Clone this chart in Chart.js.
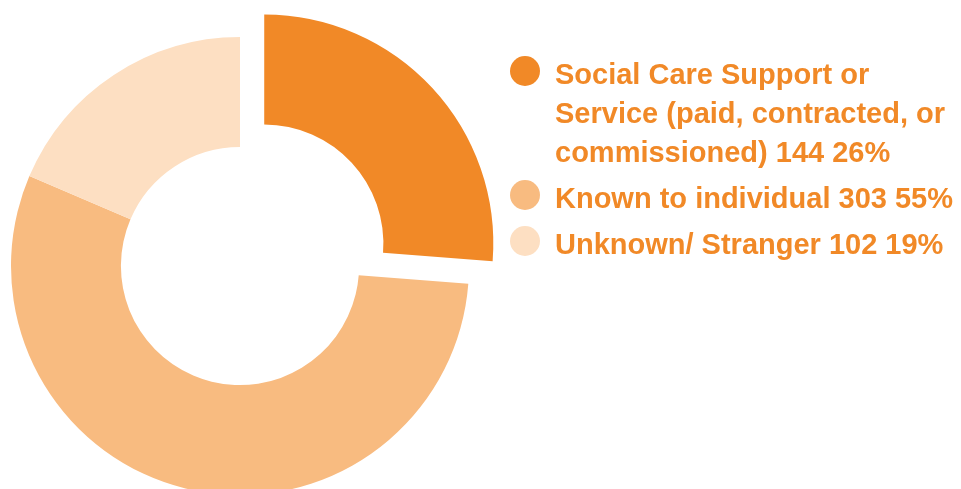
<!DOCTYPE html>
<html>
<head>
<meta charset="utf-8">
<script src="https://cdn.jsdelivr.net/npm/chart.js@4"></script>
<style>
  html, body { margin: 0; padding: 0; background: #fff; }
  #wrap { position: relative; width: 961px; height: 489px; overflow: hidden; }
  #chart { position: absolute; left: 0; top: 0; }
  #legend {
    position: absolute; left: 510px; top: 55px;
    font-family: "Liberation Sans", Arial, sans-serif;
    font-weight: bold; font-size: 29px; line-height: 39px;
    color: #F18927; white-space: nowrap;
  }
  .item { display: flex; align-items: flex-start; margin-bottom: 7px; }
  .dot { width: 30px; height: 30px; border-radius: 50%; margin-top: 1px; flex: none; }
  .text { margin-left: 15px; }
</style>
</head>
<body>
<div id="wrap">
  <canvas id="chart" width="961" height="489"></canvas>
  <div id="legend"></div>
</div>
<script>
// perpetrator groups, split across lines the way they are printed
const labels = [
  ["Social Care Support or", "Service (paid, contracted, or", "commissioned)"],
  ["Known to individual"],
  ["Unknown/ Stranger"]
];
const counts = [144, 303, 102];
const colors = ["#F18927", "#F8BB80", "#FDDFC2"];
const offsets = [132, 0, 0];  // pulls the first slice out of the ring

const total = counts.reduce((a, b) => a + b, 0);

// legend built as html so the long label can wrap over several lines
const legend = document.getElementById("legend");
labels.forEach((lines, i) => {
  const pct = Math.round(counts[i] / total * 100);
  const item = document.createElement("div");
  item.className = "item";
  const text = lines.slice(0, -1).concat(`${lines[lines.length - 1]} ${counts[i]} ${pct}%`);
  item.innerHTML = `<div class="dot" style="background:${colors[i]}"></div>
    <div class="text">${text.join("<br>")}</div>`;
  legend.appendChild(item);
});

new Chart(document.getElementById("chart"), {
  type: "doughnut",
  data: {
    labels: labels.map(l => l.join(" ")),
    datasets: [{
      data: counts,
      backgroundColor: colors,
      borderWidth: 0,
      offset: offsets,
      hoverOffset: 0
    }]
  },
  options: {
    responsive: false,
    animation: false,
    events: [],
    radius: 229,
    cutout: "52%",
    layout: { padding: { left: 0, right: 481, top: 43, bottom: 0 } },
    plugins: {
      legend: { display: false },
      tooltip: { enabled: false }
    }
  }
});
</script>
</body>
</html>
